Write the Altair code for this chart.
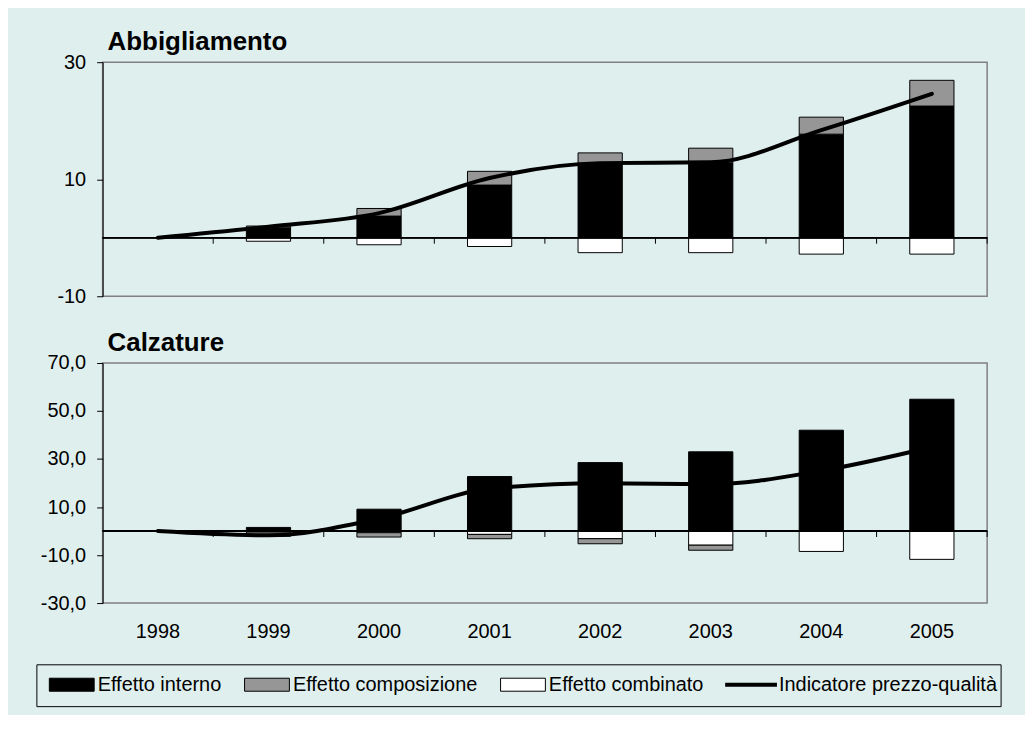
import altair as alt
import pandas as pd

# ---------------- data ----------------
years = ["1998", "1999", "2000", "2001", "2002", "2003", "2004", "2005"]
bar_labels = ["Effetto interno", "Effetto composizione", "Effetto combinato"]
line_label = "Indicatore prezzo-qualità"
titles = ["Abbigliamento", "Calzature"]

# Abbigliamento
abb_interno = [0, 1.7, 3.7, 9.0, 12.5, 12.8, 17.7, 22.5]
abb_composizione = [0, 0.3, 1.3, 2.35, 2.0, 2.5, 2.9, 4.4]
abb_combinato = [0, -0.6, -1.2, -1.5, -2.55, -2.55, -2.8, -2.8]
abb_indicatore = [0, 1.9, 4.2, 10.2, 12.75, 12.9, 18.4, 24.6]

# Calzature
cal_interno = [0, 1.5, 9.1, 22.7, 28.5, 33.0, 42.0, 54.9]
cal_composizione = [0, -1.8, -1.8, -1.8, -2.1, -2.1, 0, 0]
cal_combinato = [0, -0.4, -0.7, -1.4, -3.2, -5.9, -8.5, -11.8]
cal_indicatore = [0, -1.8, 5.2, 17.6, 19.9, 19.5, 25.1, 35.0]

abb_ticks = [-10, 10, 30]
cal_ticks = [-30, -10, 10, 30, 50, 70]

FONT = "Liberation Sans"
GRAY = "#969696"
BG = "#dfefee"


def bars_frame(interno, composizione, combinato):
    rows = []
    # stacking order: interno, combinato (nearest zero when negative), composizione
    series = [(bar_labels[0], interno), (bar_labels[2], combinato), (bar_labels[1], composizione)]
    for i, y in enumerate(years):
        for k, (lab, vals) in enumerate(series):
            if vals[i] != 0:
                rows.append({"year": y, "series": lab, "value": vals[i], "ord": k})
    return pd.DataFrame(rows)


def line_frame(vals):
    return pd.DataFrame({"year": years, "value": vals, "serie": [line_label] * len(years)})


fill_enc = alt.Fill(
    "series:N",
    scale=alt.Scale(domain=bar_labels, range=["#000000", GRAY, "#ffffff"]),
    legend=alt.Legend(
        orient="none", legendX=-54, legendY=602, direction="horizontal", title=None,
        symbolType="M-1,-0.29L1,-0.29L1,0.29L-1,0.29Z", symbolSize=2025,
        symbolStrokeColor="black", symbolStrokeWidth=1, symbolOpacity=1,
        labelFont=FONT, labelFontSize=20, labelColor="black", labelOffset=3,
        columnPadding=20, padding=0, labelLimit=400,
    ),
)
stroke_enc = alt.Stroke(
    "serie:N",
    scale=alt.Scale(domain=[line_label], range=["#000000"]),
    legend=alt.Legend(
        orient="none", legendX=623, legendY=597, direction="horizontal", title=None,
        symbolType="stroke", symbolSize=2704, symbolStrokeWidth=4,
        labelFont=FONT, labelFontSize=20, labelColor="black", labelOffset=0,
        padding=0, labelLimit=400,
    ),
)


def panel(interno, composizione, combinato, indicatore, ydomain, yvalues, label_expr, title, show_x):
    xscale = alt.Scale(domain=years, paddingInner=0, paddingOuter=0)
    if show_x:
        xaxis = alt.Axis(title=None, labelAngle=0, ticks=False, domain=False, labelPadding=19,
                         labelFont=FONT, labelFontSize=20, labelColor="black", grid=False)
    else:
        # invisible axis: only reserves a little space below the panel
        xaxis = alt.Axis(title=None, labels=False, domain=False, ticks=True, tickSize=14,
                         tickColor="transparent", grid=False)
    yscale = alt.Scale(domain=ydomain, nice=False, zero=False)
    yaxis = alt.Axis(values=yvalues, labelExpr=label_expr, title=None, grid=False,
                     domainColor="black", tickColor="black", tickSize=6, labelPadding=11,
                     labelFont=FONT, labelFontSize=20, labelColor="black",
                     minExtent=66, maxExtent=66)
    bdf = bars_frame(interno, composizione, combinato)
    ldf = line_frame(indicatore)
    ydf = pd.DataFrame({"year": years})

    bars = alt.Chart(bdf).mark_bar(width=alt.RelativeBandSize(0.4), stroke="black", strokeWidth=1).encode(
        x=alt.X("year:N", scale=xscale, axis=xaxis),
        y=alt.Y("value:Q", scale=yscale, axis=yaxis, stack="zero"),
        fill=fill_enc,
        order=alt.Order("ord:Q"),
    )
    zero = alt.Chart(ydf).mark_rule(color="black", strokeWidth=1).encode(y=alt.datum(0))
    ticks = alt.Chart(ydf).mark_rule(color="black", strokeWidth=1, y2Offset=6).encode(
        x=alt.X("year:N", scale=xscale, axis=xaxis, bandPosition=1),
        y=alt.datum(0), y2=alt.datum(0),
    )
    line = alt.Chart(ldf).mark_line(strokeWidth=4, interpolate="monotone", strokeCap="round").encode(
        x=alt.X("year:N", scale=xscale, axis=xaxis),
        y=alt.Y("value:Q", scale=yscale, axis=yaxis),
        stroke=stroke_enc,
    )
    head = alt.Chart(pd.DataFrame({"t": [title]})).mark_text(
        align="left", baseline="alphabetic", font=FONT, fontSize=26, fontWeight="bold", color="black"
    ).encode(text="t:N", x=alt.value(5), y=alt.value(-12))
    return alt.layer(bars, zero, ticks, line, head).properties(
        width=888, height=(235 if not show_x else 241),
    )


top = panel(abb_interno, abb_composizione, abb_combinato, abb_indicatore, [-10, 30], abb_ticks,
            "datum.value + ''", titles[0], False)
bottom = panel(cal_interno, cal_composizione, cal_combinato, cal_indicatore, [-30, 70], cal_ticks,
               "datum.value + ',0'", titles[1], True)

# legend frame (decoration) spanning from the left edge of the axis labels to beyond the plot
legend_box = alt.Chart(pd.DataFrame({"t": [line_label]})).mark_rect(
    fill="transparent", stroke="black", strokeWidth=1
).encode(
    x=alt.value(-66), x2=alt.value(902), y=alt.value(4), y2=alt.value(46)
).properties(width=888, height=46, view=alt.ViewBackground(stroke="transparent", fill=None))

chart = alt.concat(top, bottom, legend_box, columns=1, spacing=17).resolve_scale(
    y="independent", fill="shared", stroke="shared"
).properties(
    padding={"left": 27, "top": 19, "right": 22, "bottom": 5},
    background=BG,
).configure_view(stroke="#808080", strokeWidth=1.5)

chart.save("out.html", embed_options={"renderer": "svg", "actions": False})
